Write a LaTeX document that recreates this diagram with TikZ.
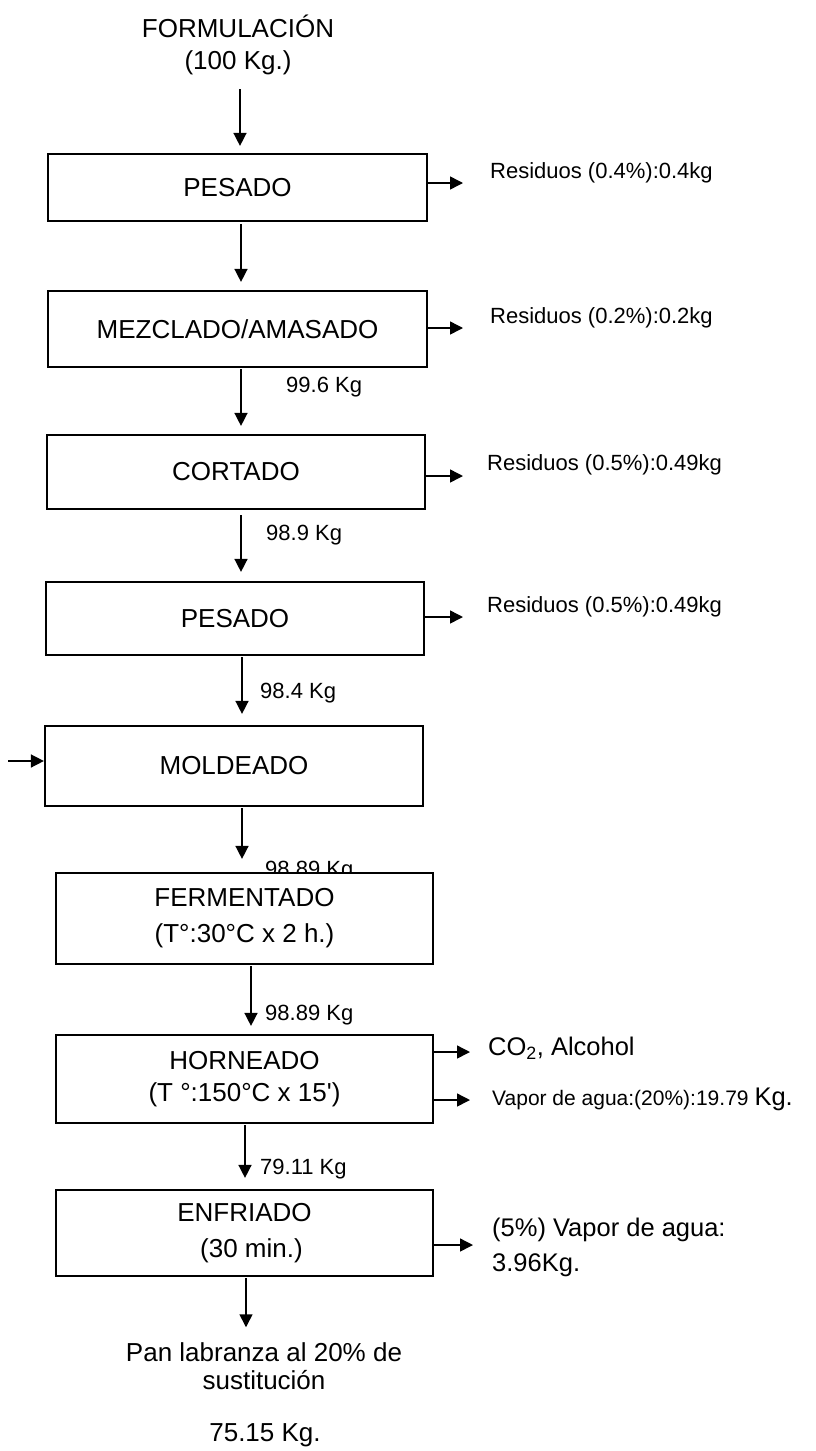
\documentclass[tikz,border=0pt]{standalone}
\usepackage{fontspec}
\setmainfont{Liberation Sans}
\usetikzlibrary{arrows.meta}
\begin{document}
\begin{tikzpicture}[x=1pt,y=-1pt,
  box/.style={draw, line width=2.2pt, fill=white, inner sep=0pt, align=center,
              font=\fontsize{26}{32}\selectfont},
  flow/.style={line width=1.5pt, -{Triangle[length=13pt,width=13pt]}},
  big/.style={font=\fontsize{26}{32}\selectfont, inner sep=0pt, align=center},
  lbl/.style={font=\fontsize{22}{26}\selectfont, inner sep=0pt, anchor=west},
  res/.style={font=\fontsize{22}{26}\selectfont, inner sep=0pt, anchor=west},
  side/.style={font=\fontsize{25.5}{35}\selectfont, inner sep=0pt, anchor=west, align=left},
]
\useasboundingbox (0,0) rectangle (815,1451);

% top text
\node[big] (form) at (238,45) {FORMULACIÓN\\(100 Kg.)};

% boxes (upper)
\node[box, minimum width=379pt, minimum height=67pt] (b1) at (237.5,187.5) {PESADO};
\node[box, minimum width=379pt, minimum height=76pt] (b2) at (237.5,329) {MEZCLADO/AMASADO};
\node[box, minimum width=378pt, minimum height=74pt] (b3) at (236,472) {CORTADO};
\node[box, minimum width=378pt, minimum height=73pt] (b4) at (235,618.5) {PESADO};
\node[box, minimum width=378pt, minimum height=80pt] (b5) at (234,766) {MOLDEADO};

% clipped label behind FERMENTADO box
\node[lbl] (k5) at (265,871) {98.89 Kg};

% boxes (lower)
\node[box, minimum width=377pt, minimum height=91pt] (b6) at (244.5,918.5) {FERMENTADO\\[4pt](T°:30°C x 2 h.)};
\node[box, minimum width=377pt, minimum height=88pt] (b7) at (244.5,1079) {HORNEADO\\(T °:150°C x 15\textquotesingle)};
\node[box, minimum width=377pt, minimum height=86pt] (b8) at (244.5,1233) {ENFRIADO\\[4pt]\hspace*{14pt}(30 min.)};

% flow labels
\node[lbl] (k2) at (286,387) {99.6 Kg};
\node[lbl] (k3) at (266,535) {98.9 Kg};
\node[lbl] (k4) at (260,693) {98.4 Kg};
\node[lbl] (k6) at (265,1015) {98.89 Kg};
\node[lbl] (k7) at (260,1169) {79.11 Kg};

% side outputs
\node[res] (r1) at (490,173) {Residuos (0.4\%):0.4kg};
\node[res] (r2) at (490,318) {Residuos (0.2\%):0.2kg};
\node[res] (r3) at (487,465) {Residuos (0.5\%):0.49kg};
\node[res] (r4) at (487,607) {Residuos (0.5\%):0.49kg};
\node[side] (r5) at (488,1048) {CO\textsubscript{2}, Alcohol};
\node[inner sep=0pt, anchor=west] (r6) at (492,1099)
  {{\fontsize{21}{25}\selectfont Vapor de agua:(20\%):19.79 }{\fontsize{25.5}{30}\selectfont Kg.}};
\node[side] (r7) at (492,1247.5) {(5\%) Vapor de agua:\\3.96Kg.};

% bottom text
\node[big, font=\fontsize{26}{28}\selectfont] (pan) at (264,1366) {Pan labranza al 20\% de\\sustitución};
\node[big] (tot) at (265,1435) {75.15 Kg.};

% input arrow to MOLDEADO
\coordinate (in) at (8,761);
\draw[flow] (in) -- (b5.west |- in);

% main chain arrows
\draw[flow, shorten <=14pt, shorten >=7pt] ([xshift=2pt]form.south) -- ([xshift=2pt]form.south |- b1.north);
\draw[flow, shorten <=2pt, shorten >=8pt] ([xshift=3.5pt]b1.south) -- ([xshift=3.5pt]b1.south |- b2.north);
\draw[flow, shorten <=1pt, shorten >=8pt] ([xshift=3.5pt]b2.south) -- ([xshift=3.5pt]b2.south |- b3.north);
\draw[flow, shorten <=5pt, shorten >=9pt] ([xshift=5pt]b3.south) -- ([xshift=5pt]b3.south |- b4.north);
\draw[flow, shorten <=1pt, shorten >=11pt] ([xshift=7pt]b4.south) -- ([xshift=7pt]b4.south |- b5.north);
\draw[flow, shorten <=1pt, shorten >=13pt] ([xshift=8pt]b5.south) -- ([xshift=8pt]b5.south |- b6.north);
\draw[flow, shorten <=1pt, shorten >=8pt] ([xshift=6.5pt]b6.south) -- ([xshift=6.5pt]b6.south |- b7.north);
\draw[flow, shorten <=1pt, shorten >=11pt] ([xshift=0.5pt]b7.south) -- ([xshift=0.5pt]b7.south |- b8.north);
\draw[flow, shorten <=1pt, shorten >=15pt] ([xshift=1.5pt]b8.south) -- ([xshift=1.5pt]b8.south |- pan.north);

% side arrows
\draw[flow, shorten >=27pt] ([yshift=4.5pt]b1.east) -- ([yshift=4.5pt]b1.east -| r1.west);
\draw[flow, shorten >=27pt] ([yshift=1pt]b2.east) -- ([yshift=1pt]b2.east -| r2.west);
\draw[flow, shorten >=24pt] ([yshift=-4pt]b3.east) -- ([yshift=-4pt]b3.east -| r3.west);
\draw[flow, shorten >=24pt] ([yshift=1.5pt]b4.east) -- ([yshift=1.5pt]b4.east -| r4.west);
\draw[flow, shorten >=18pt] ([yshift=27pt]b7.east) -- ([yshift=27pt]b7.east -| r5.west);
\draw[flow, shorten >=22pt] ([yshift=-21pt]b7.east) -- ([yshift=-21pt]b7.east -| r6.west);
\draw[flow, shorten >=19pt] ([yshift=-12pt]b8.east) -- ([yshift=-12pt]b8.east -| r7.west);
\end{tikzpicture}
\end{document}
